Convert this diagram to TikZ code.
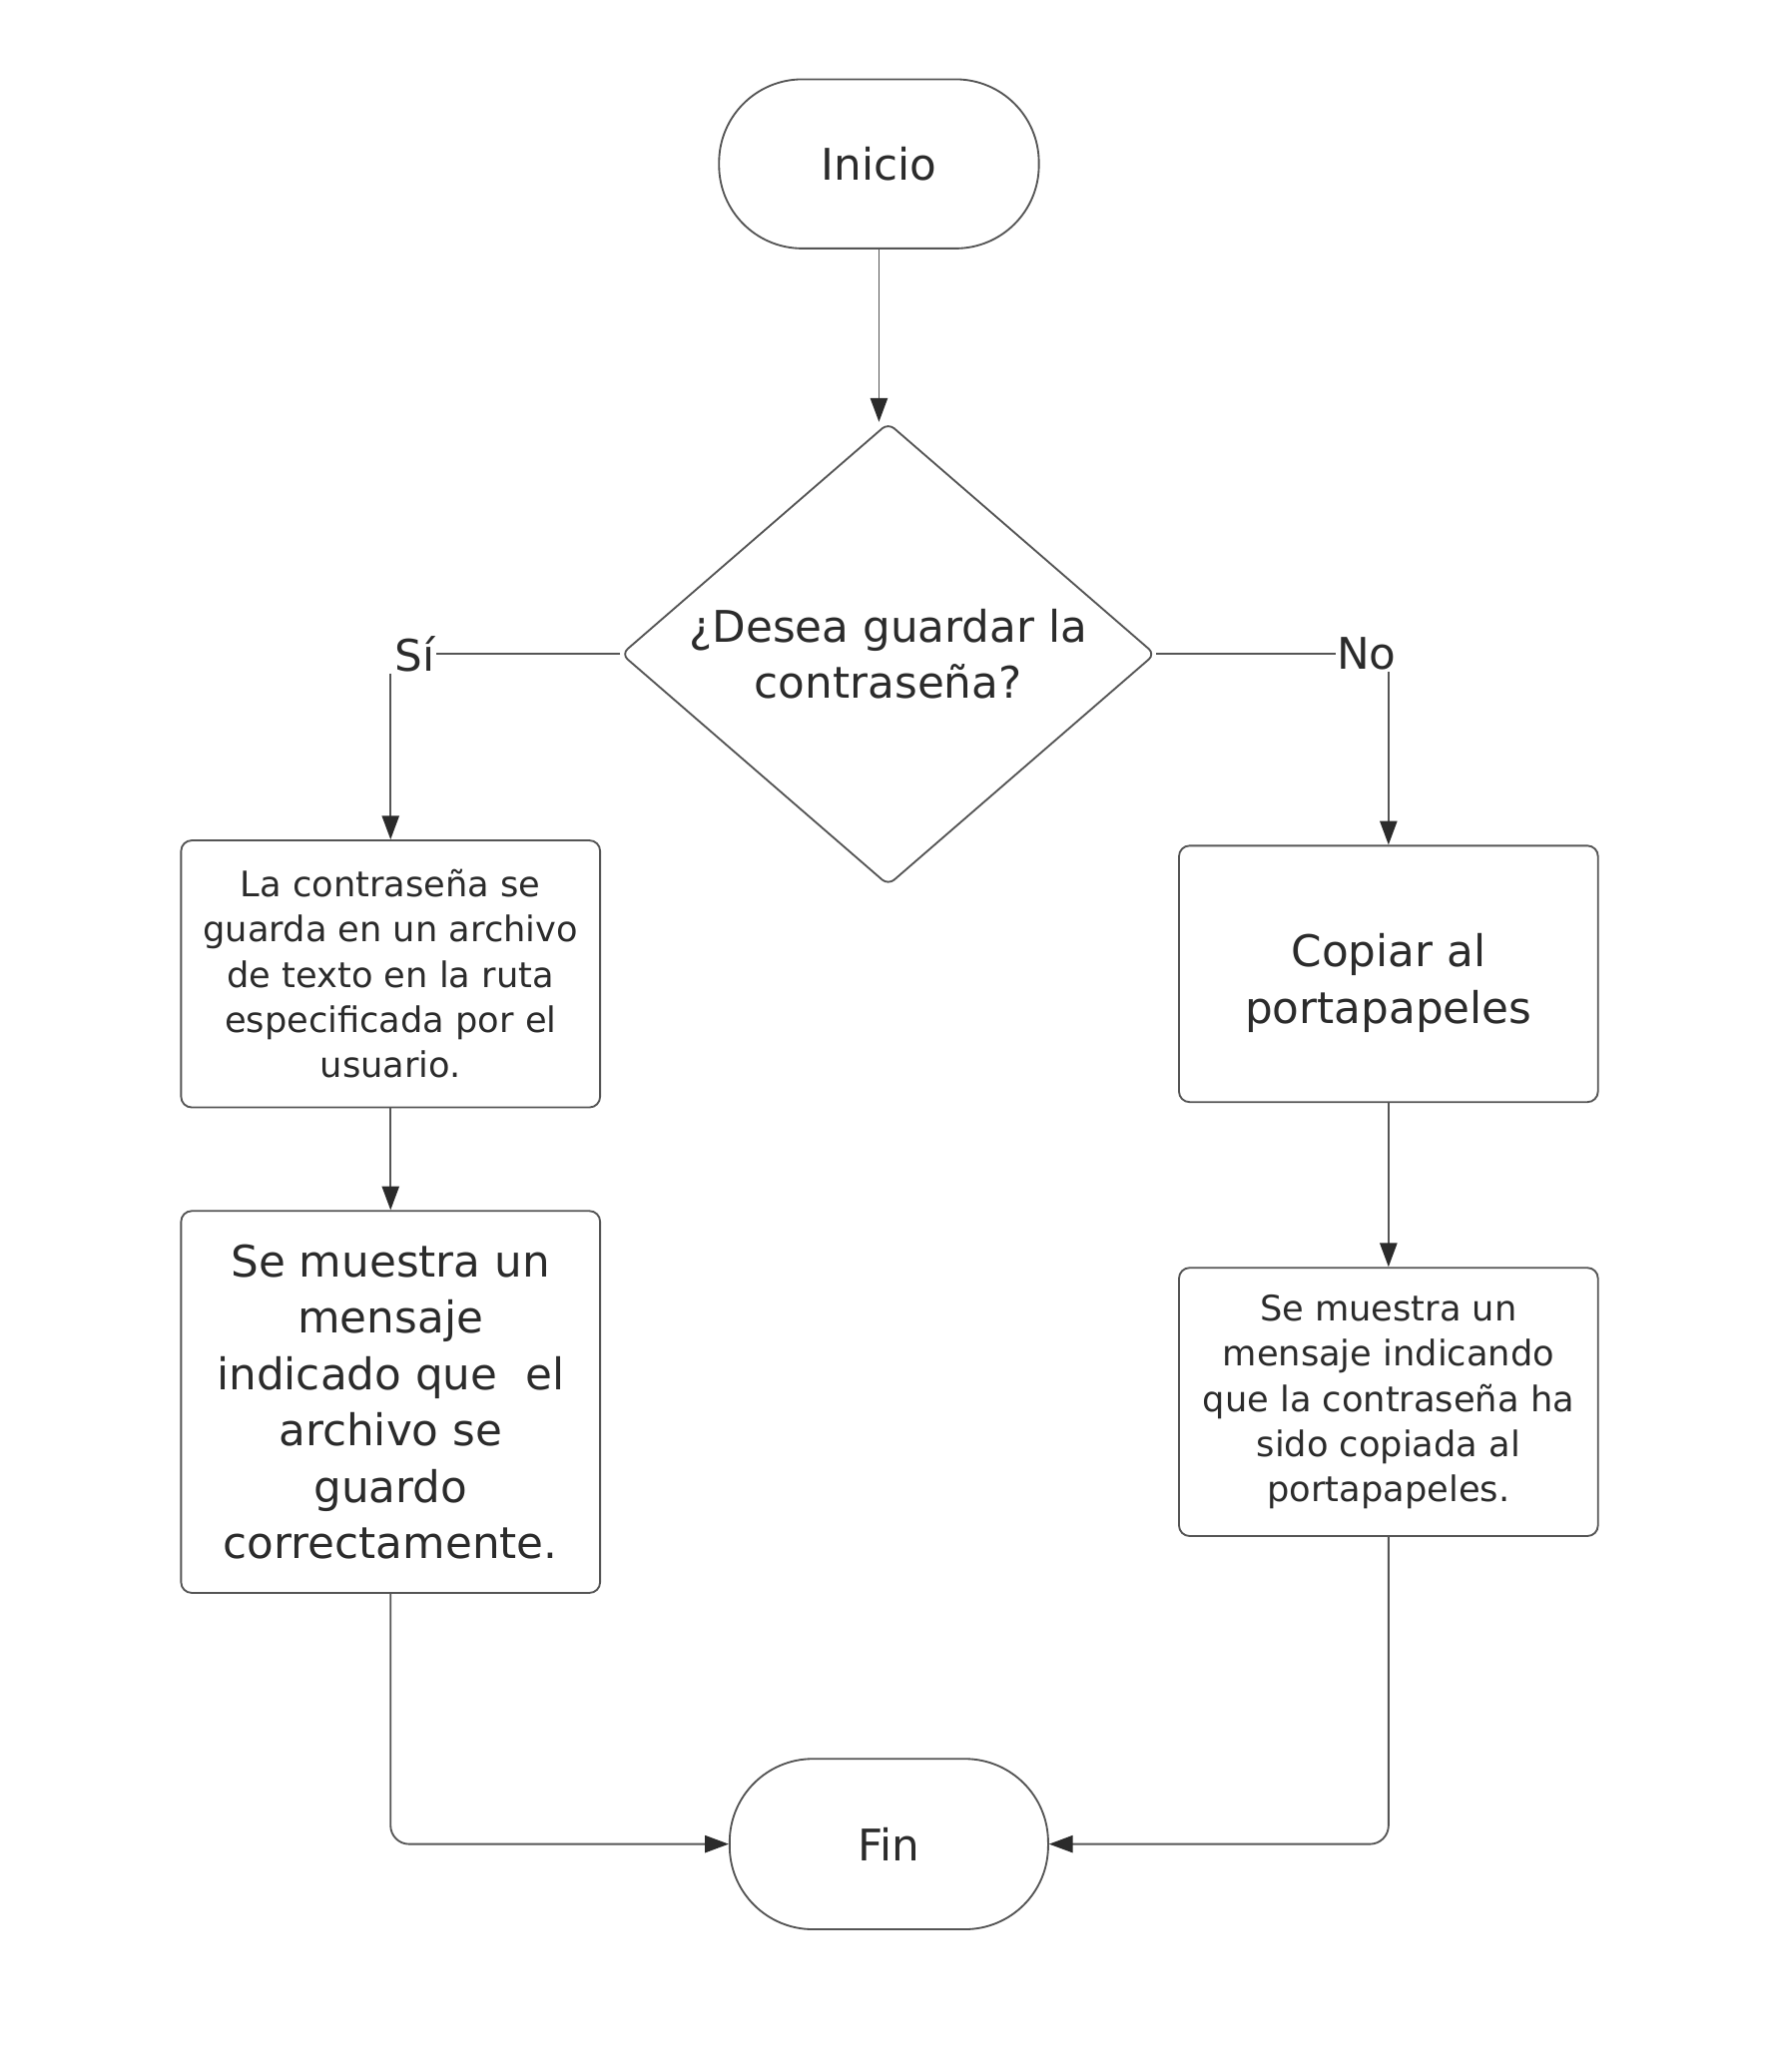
\documentclass[tikz,border=0pt]{standalone}
\usepackage{fontspec}
\setmainfont{DejaVu Sans}
\usepackage{xcolor}
\usepackage{tikz}
\usetikzlibrary{shapes.geometric, arrows.meta, positioning}
\definecolor{inkline}{HTML}{555555}
\definecolor{inktext}{HTML}{2B2B2B}
\newcommand{\bigtxt}{\fontsize{33pt}{42.6pt}\selectfont}
\newcommand{\smalltxt}{\fontsize{26.6pt}{34.2pt}\selectfont}
\tikzset{
  block/.style={rectangle, rounded corners=8pt, draw=inkline, line width=1.4pt,
                fill=white, text=inktext, minimum width=317pt, align=center,
                inner sep=0pt, font=\smalltxt},
  blockbig/.style={block, font=\bigtxt},
  terminal/.style={rectangle, rounded corners=63pt, draw=inkline, line width=1.4pt,
                   fill=white, text=inktext, minimum width=242pt,
                   minimum height=128pt, font=\bigtxt},
  decision/.style={diamond, draw=inkline, line width=1.4pt, fill=white,
                   text=inktext, aspect=1.156, minimum width=404pt,
                   minimum height=350pt, rounded corners=6pt, inner sep=0pt,
                   align=center, font=\bigtxt},
  arrow/.style={-{Triangle[length=18pt, width=13pt, color=inktext]},
                line width=1.4pt, draw=inkline},
  link/.style={line width=1.4pt, draw=inkline},
  lbl/.style={font=\bigtxt, text=inktext, inner sep=1pt},
}

\begin{document}
\begin{tikzpicture}[x=1pt, y=-1pt]
  \useasboundingbox (0,0) rectangle (1341,1568);

  \node[terminal] (inicio) at (665,124) {Inicio};
  \node[decision] (desea) at (672,495)
    {¿Desea guardar la\\contraseña?};
  \node[lbl] (si) at (314,495) {Sí};
  \node[lbl] (no) at (1034,495) {No};

  % rama Si
  \node[block, minimum height=202pt] (guarda) at (295.5,737)
    {La contraseña se\\guarda en un archivo\\de texto en la ruta\\especificada por el\\usuario.};
  \node[blockbig, minimum height=289pt, below=77pt of guarda] (msjarchivo)
    {Se muestra un\\mensaje\\indicado que~ el\\archivo se\\guardo\\correctamente.};

  % rama No
  \node[blockbig, minimum height=194pt] (copiar) at (1050.5,737)
    {\rule{0pt}{39pt}Copiar al\\portapapeles};
  \node[block, minimum height=203pt, below=124pt of copiar] (msjcopia)
    {Se muestra un\\mensaje indicando\\que la contraseña ha\\sido copiada al\\portapapeles.};

  \node[terminal, minimum width=241pt, minimum height=129pt] (fin) at (672.5,1395.5) {Fin};

  \draw[arrow] (inicio.south) -- (inicio.south |- desea.north);
  \draw[link] (desea.west) -- (si.east);
  \draw[arrow] (si.south -| guarda.north) -- (guarda.north);
  \draw[link] (desea.east) -- (no.west);
  \draw[arrow] (no.south -| copiar.north) -- (copiar.north);
  \draw[arrow] (guarda) -- (msjarchivo);
  \draw[arrow] (copiar) -- (msjcopia);
  \draw[arrow, rounded corners=14pt] (msjarchivo.south) |- (fin.west);
  \draw[arrow, rounded corners=14pt] (msjcopia.south) |- (fin.east);
\end{tikzpicture}
\end{document}
